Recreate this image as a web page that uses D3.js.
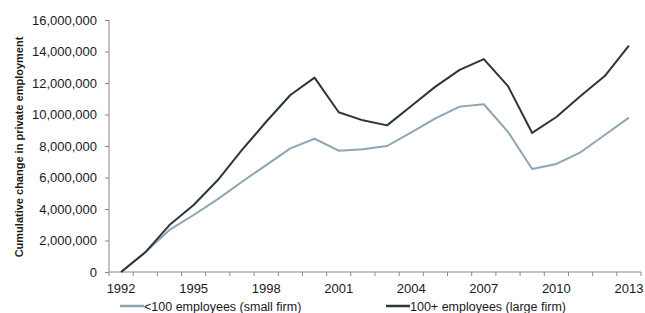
<!DOCTYPE html>
<html>
<head>
<meta charset="utf-8">
<script src="https://cdn.jsdelivr.net/npm/d3@7"></script>
<style>
  body { margin: 0; background: #fff; }
  svg { display: block; font-family: "Liberation Sans", Arial, sans-serif; }
  .axis path, .axis line { stroke: #8a8a8a; }
</style>
</head>
<body>
<div id="chart"></div>
<script>
// years on the x axis
const years = d3.range(1992, 2014).map(String);

// cumulative change in private employment
const smallFirm = [0, 1250000, 2670000, 3620000, 4630000, 5730000, 6790000, 7850000, 8460000,
  7700000, 7790000, 8000000, 8870000, 9760000, 10500000, 10650000, 8900000, 6540000,
  6860000, 7600000, 8700000, 9800000];
const largeFirm = [0, 1250000, 2980000, 4250000, 5840000, 7750000, 9540000, 11240000, 12340000,
  10140000, 9630000, 9310000, 10540000, 11770000, 12830000, 13520000, 11800000, 8830000,
  9840000, 11170000, 12440000, 14380000];

const yTicks = [0, 2000000, 4000000, 6000000, 8000000, 10000000, 12000000, 14000000, 16000000];
const xLabels = ["1992", "1995", "1998", "2001", "2004", "2007", "2010", "2013"];

const width = 645, height = 313;
const margin = { top: 20, right: 4, bottom: 41, left: 109 };

const svg = d3.select("#chart")
  .append("svg")
    .attr("width", width)
    .attr("height", height);

const x = d3.scaleBand()
  .domain(years)
  .range([margin.left, width - margin.right]);

const y = d3.scaleLinear()
  .domain([0, 16000000])
  .range([height - margin.bottom, margin.top]);

// y axis
const yAxis = svg.append("g")
  .attr("class", "axis")
  .attr("transform", `translate(${margin.left},0)`)
  .call(d3.axisLeft(y).tickValues(yTicks).tickSize(4).tickPadding(8).tickFormat(d3.format(",")));
yAxis.select(".domain").attr("d", `M-0.5,${y(16000000)}V${y(0)}`).attr("transform", "translate(0.5,0)");
yAxis.selectAll("text").attr("font-size", 13).attr("fill", "#1a1a1a").attr("font-family", "Liberation Sans, Arial");

// x axis: ticks on band edges, labels every 3 years at band centers
const xAxis = svg.append("g")
  .attr("class", "axis")
  .attr("transform", `translate(0,${height - margin.bottom})`);
xAxis.append("line")
  .attr("x1", margin.left).attr("x2", width - margin.right)
  .attr("stroke", "#8a8a8a");
xAxis.selectAll("line.tick")
  .data(years.concat(["end"]))
  .join("line")
    .attr("class", "tick")
    .attr("x1", d => d === "end" ? x.range()[1] : x(d))
    .attr("x2", d => d === "end" ? x.range()[1] : x(d))
    .attr("y1", 0).attr("y2", 4)
    .attr("stroke", "#8a8a8a");
xAxis.selectAll("text")
  .data(xLabels)
  .join("text")
    .attr("x", d => x(d) + x.bandwidth() / 2)
    .attr("y", 21)
    .attr("text-anchor", "middle")
    .attr("font-size", 13)
    .attr("fill", "#1a1a1a")
    .text(d => d);

// y axis title
svg.append("text")
  .attr("transform", `translate(23,147) rotate(-90)`)
  .attr("text-anchor", "middle")
  .attr("font-size", 11)
  .attr("font-weight", "bold")
  .attr("fill", "#1a1a1a")
  .text("Cumulative change in private employment");

const line = d3.line()
  .x((d, i) => x(years[i]) + x.bandwidth() / 2)
  .y(d => y(d));

const series = [
  { name: "<100 employees (small firm)", values: smallFirm, color: "#8ea5b3" },
  { name: "100+ employees (large firm)", values: largeFirm, color: "#2a363e" }
];

svg.selectAll("path.series")
  .data(series)
  .join("path")
    .attr("class", "series")
    .attr("fill", "none")
    .attr("stroke", d => d.color)
    .attr("stroke-width", 2)
    .attr("stroke-linejoin", "round")
    .attr("d", d => line(d.values));

// legend
const legendX = [120, 386];
const legend = svg.selectAll("g.legend")
  .data(series)
  .join("g")
    .attr("class", "legend")
    .attr("transform", (d, i) => `translate(${legendX[i]},306)`);
legend.append("line")
  .attr("x1", 0).attr("x2", 24)
  .attr("stroke", d => d.color)
  .attr("stroke-width", 2.5);
legend.append("text")
  .attr("x", 24)
  .attr("y", 4.5)
  .attr("font-size", 12.5)
  .attr("fill", "#1a1a1a")
  .text(d => d.name);
</script>
</body>
</html>
